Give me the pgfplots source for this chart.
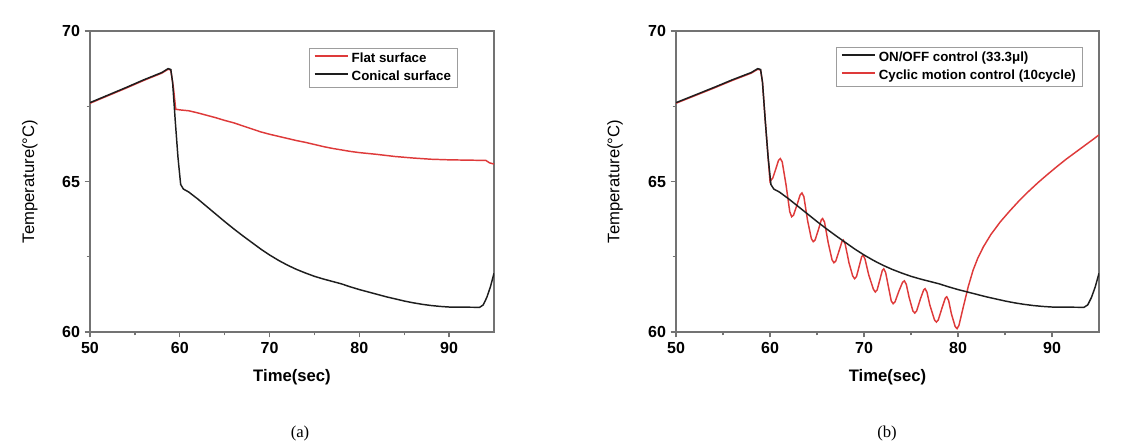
\documentclass[border=0pt]{standalone}
\usepackage{fontspec}
\setmainfont{Liberation Sans}
\setsansfont{Liberation Sans}
\newfontfamily\serifcap{Liberation Serif}
\usepackage{pgfplots}
\pgfplotsset{compat=1.18}
\definecolor{axisgray}{RGB}{115,115,115}
\definecolor{myred}{RGB}{222,58,58}
\definecolor{myblack}{RGB}{30,30,30}

\pgfplotsset{
  panel/.style={
    anchor=south west, scale only axis,
    height=225.75pt,
    xmin=50, xmax=95, ymin=60, ymax=70,
    xtick={50,60,70,80,90}, ytick={60,65,70},
    minor x tick num=1, minor y tick num=1,
    xtick pos=bottom, ytick pos=left, tick align=outside,
    major tick length=4pt, minor tick length=2.5pt,
    axis line style={draw=axisgray, line width=1.3pt},
    tick style={draw=axisgray, line width=1pt},
    /pgf/number format/assume math mode=true,
    ticklabel style={font=\fontsize{12}{14}\selectfont\bfseries},
    xlabel={\bfseries Time(sec)},
    ylabel={Temperature(\textdegree C)},
    xlabel style={font=\fontsize{12.5}{14}\selectfont, at={(axis description cs:0.5,0)}, anchor=north, yshift=-27.5pt, inner sep=0pt},
    ylabel style={font=\fontsize{12.5}{14}\selectfont, anchor=south, inner sep=0pt},
    legend cell align=left,
    legend style={draw=axisgray!70, line width=0.6pt, font=\fontsize{10}{11.5}\selectfont\bfseries,
      inner xsep=3pt, inner ysep=1.5pt, row sep=0.8pt, anchor=north east},
    legend image code/.code={\draw[#1, line width=1.5pt] (0pt,0.4ex) -- (25pt,0.4ex);},
  }
}

\pgfplotstableread{
t v
50 67.62
52 67.87
54 68.12
56 68.38
58 68.62
58.7 68.75
59.0 68.72
59.2 68.3
59.5 67.0
59.8 65.8
60.1 64.9
60.4 64.75
61 64.65
62 64.42
63 64.17
64 63.92
65 63.67
66 63.43
67 63.2
68 62.98
69 62.76
70 62.56
71 62.38
72 62.22
73 62.08
74 61.96
75 61.85
76 61.76
77 61.68
78 61.6
79 61.5
80 61.41
81 61.33
82 61.25
83 61.17
84 61.1
85 61.03
86 60.97
87 60.92
88 60.88
89 60.85
90 60.83
93.4 60.82
93.8 60.9
94.2 61.15
94.6 61.5
95 61.95
}\blackdata

\pgfplotstableread{
t v
50 67.6
52 67.85
54 68.1
56 68.36
58 68.6
58.7 68.73
59.0 68.7
59.3 68.1
59.55 67.4
60 67.38
61 67.35
62 67.28
63 67.2
64 67.12
65 67.03
66 66.95
67 66.85
68 66.75
69 66.65
70 66.57
71 66.5
72 66.43
73 66.36
74 66.3
75 66.23
76 66.16
77 66.1
78 66.05
79 66.0
80 65.96
82 65.9
84 65.83
86 65.78
88 65.74
90 65.72
94.1 65.7
94.5 65.62
95 65.58
}\flatdata

\pgfplotstableread{
t v
50 67.6
52 67.85
54 68.1
56 68.36
58 68.6
58.7 68.73
59.0 68.7
59.2 68.3
59.5 67.0
59.8 65.8
60.0 65.0
60.3 65.12
60.6 65.4
60.9 65.7
61.1 65.76
61.3 65.65
61.7 64.9
62.1 64.0
62.3 63.83
62.5 63.88
62.9 64.25
63.2 64.55
63.4 64.62
63.6 64.5
64.0 63.7
64.4 63.1
64.6 63.0
64.8 63.06
65.2 63.45
65.45 63.72
65.6 63.77
65.8 63.65
66.2 62.95
66.6 62.4
66.8 62.3
67.0 62.36
67.4 62.75
67.65 63.0
67.8 63.05
68.0 62.92
68.4 62.3
68.8 61.86
69.0 61.77
69.2 61.84
69.5 62.2
69.75 62.5
69.9 62.55
70.1 62.43
70.5 61.9
71.0 61.42
71.2 61.33
71.4 61.4
71.7 61.75
71.95 62.05
72.1 62.1
72.3 61.98
72.6 61.5
72.9 61.03
73.1 60.94
73.3 61.0
73.7 61.35
74.1 61.65
74.3 61.7
74.5 61.58
74.8 61.15
75.2 60.7
75.4 60.63
75.6 60.7
76.0 61.1
76.35 61.4
76.5 61.44
76.7 61.32
77.0 60.9
77.5 60.4
77.7 60.33
77.9 60.4
78.3 60.8
78.65 61.13
78.8 61.17
79.0 61.05
79.3 60.6
79.7 60.18
79.9 60.11
80.1 60.22
80.5 60.75
81.1 61.52
81.6 62.05
82.1 62.45
82.7 62.83
83.5 63.24
84.5 63.66
85.5 64.02
86.5 64.36
87.5 64.67
88.5 64.96
89.5 65.23
90.5 65.49
91.5 65.74
92.5 65.97
93.5 66.2
94.5 66.43
95 66.55
}\cyclicdata

\begin{document}
\begin{tikzpicture}
\path[use as bounding box] (0pt,0pt) rectangle (842.25pt,-335.25pt);

\begin{axis}[panel, at={(67.5pt,-249pt)}, width=303pt,
  ylabel style={at={(axis description cs:-0.129,0.5)}},
  legend style={at={(axis description cs:0.911,0.944)}}]
\addplot[myred, line width=1.1pt] table[x=t,y=v] {\flatdata};
\addlegendentry{Flat surface}
\addplot[myblack, line width=1.1pt] table[x=t,y=v] {\blackdata};
\addlegendentry{Conical surface}
\end{axis}

\begin{axis}[panel, at={(507pt,-249pt)}, width=317.25pt,
  ylabel style={at={(axis description cs:-0.125,0.5)}},
  legend style={at={(axis description cs:0.962,0.947)}}]
\addlegendimage{myblack}
\addlegendentry{ON/OFF control (33.3μl)}
\addlegendimage{myred}
\addlegendentry{Cyclic motion control (10cycle)}
\addplot[myred, line width=1.1pt, forget plot] table[x=t,y=v] {\cyclicdata};
\addplot[myblack, line width=1.1pt, forget plot] table[x=t,y=v] {\blackdata};
\end{axis}

\node[font=\serifcap\fontsize{12.5}{14}\selectfont] at (225pt,-324.75pt) {(a)};
\node[font=\serifcap\fontsize{12.5}{14}\selectfont] at (665.25pt,-324.75pt) {(b)};
\end{tikzpicture}
\end{document}
